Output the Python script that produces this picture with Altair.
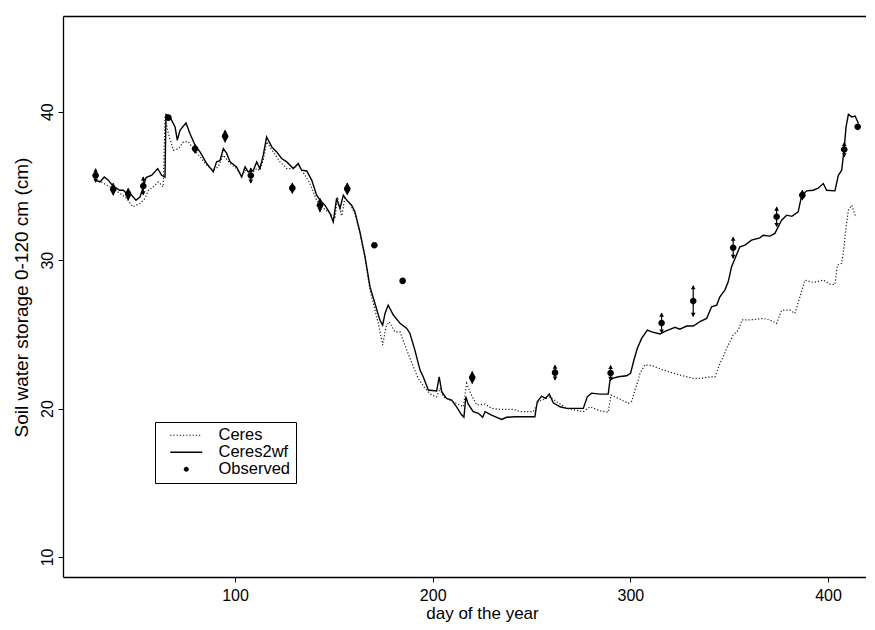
import altair as alt
import pandas as pd

# ---------------- data ----------------
ceres2wf_day = [29.3, 31.7, 33.9, 35.9, 38.4, 41.8, 43.5, 45.2, 47.7, 49.9, 52.0, 53.6, 55.0, 57.9,
                60.9, 62.9, 64.6, 65.1, 67.1, 69.7, 70.8, 72.2, 75.2, 77.2, 79.8, 82.3, 85.7, 89.0,
                90.7, 92.4, 94.1, 95.8, 97.5, 100.8, 103.4, 105.1, 106.7, 109.3, 111.0, 112.6, 114.3,
                116.0, 118.6, 121.1, 123.6, 126.2, 129.5, 132.0, 133.7, 136.3, 138.8, 141.3, 143.0,
                145.5, 148.1, 149.7, 151.4, 153.1, 154.8, 156.5, 159.0, 160.7, 163.2, 165.8, 168.3,
                170.8, 173.3, 174.7, 175.9, 177.5, 180.1, 183.5, 186.9, 188.5, 191.0, 193.6, 195.2,
                197.8, 202.0, 203.3, 204.6, 207.0, 209.6, 212.1, 214.7, 215.8, 216.8, 218.0, 220.5,
                223.1, 225.3, 226.5, 229.8, 232.4, 234.9, 237.4, 241.6, 251.7, 252.9, 255.1, 257.1,
                259.0, 261.0, 264.4, 267.8, 276.2, 278.2, 280.4, 284.6, 288.8, 289.7, 291.0, 293.9,
                298.1, 300.1, 301.8, 303.5, 305.7, 308.6, 310.8, 315.0, 317.5, 320.0, 322.6, 325.0,
                328.5, 331.8, 335.2, 338.6, 341.1, 343.7, 345.3, 347.8, 349.5, 351.2, 352.9, 355.4,
                358.0, 361.3, 365.5, 367.2, 370.6, 373.1, 374.8, 376.5, 379.1, 381.7, 384.9, 386.7,
                389.2, 392.5, 395.0, 397.6, 399.3, 403.5, 405.2, 406.9, 408.1, 409.1, 410.3, 412.0,
                413.7, 415.4]
ceres2wf_val = [35.39, 35.27, 35.6, 35.39, 34.98, 34.71, 34.71, 34.49, 34.38, 34.04, 34.26, 34.94, 35.57, 35.72,
                36.17, 35.72, 35.6, 39.81, 39.65, 38.98, 38.08, 38.75, 39.25, 38.53, 37.74, 37.29, 36.51, 35.95,
                36.62, 36.7, 37.52, 37.19, 36.62, 36.28, 35.61, 36.28, 35.95, 36.06, 36.62, 36.17, 37.07,
                38.3, 37.63, 37.29, 36.85, 36.62, 36.17, 36.51, 36.06, 36.01, 35.39, 34.38, 34.04,
                33.7, 33.14, 32.58, 34.16, 33.48, 34.38, 34.04, 33.7, 33.25, 31.91, 30.22, 28.2,
                27.08, 25.96, 25.62, 26.41, 26.97, 26.3, 25.74, 25.4, 25.06, 23.94, 22.59, 22.14,
                21.25, 21.18, 22.14, 21.13, 20.69, 20.57, 20.12, 19.56, 19.41, 20.79, 20.3, 19.79,
                19.68, 19.41, 19.79, 19.56, 19.41, 19.27, 19.41, 19.45, 19.45, 20.46, 20.84, 20.69,
                20.98, 20.39, 20.12, 20.01, 20.01, 20.79, 21.04, 20.97, 20.98, 21.92, 22.03, 22.14,
                22.21, 22.37, 23.27, 24.05, 24.73, 25.29, 25.17, 25.02, 25.2, 25.33, 25.47, 25.35,
                25.56, 25.56, 25.85, 26.07, 26.86, 26.97, 27.53, 27.98, 28.54, 29.55, 30.1, 30.9,
                31.01, 31.35, 31.5, 31.68, 31.62, 31.8, 32.24, 32.69, 33.03, 32.95, 33.25, 34.38,
                34.67, 34.71, 34.85, 35.16, 34.71, 34.67, 35.72, 36.06, 37.41, 38.98, 39.83, 39.65,
                39.7, 39.21]

ceres_day = [29.3, 32.0, 35.1, 38.4, 41.8, 45.2, 48.3, 52.0, 54.5, 56.2, 58.7, 61.2, 63.7, 64.6,
             66.3, 68.8, 71.4, 73.9, 76.4, 78.9, 82.3, 85.7, 89.0, 91.5, 94.1, 97.5, 100.8, 103.4,
             105.1, 108.4, 111.0, 112.6, 114.3, 116.0, 119.4, 122.8, 126.2, 129.5, 132.0, 135.4,
             137.9, 141.3, 143.9, 148.1, 150.6, 151.8, 154.0, 155.6, 158.2, 160.7, 163.2, 165.8,
             168.3, 172.5, 174.7, 176.4, 178.0, 180.9, 183.5, 186.9, 190.2, 192.7, 196.1, 199.5,
             202.0, 203.7, 205.4, 210.4, 215.5, 217.2, 219.2, 222.3, 226.5, 229.8, 234.0, 240.8,
             244.2, 250.9, 253.4, 256.0, 259.3, 262.7, 267.8, 276.2, 279.6, 284.6, 288.8, 290.2,
             293.9, 299.0, 300.8, 302.3, 303.5, 304.9, 307.4, 311.6, 316.7, 320.0, 325.1, 331.8,
             335.2, 340.3, 342.8, 345.3, 347.0, 348.7, 352.0, 354.6, 356.5, 361.0, 367.2, 370.6,
             374.0, 376.5, 380.7, 383.2, 385.8, 388.3, 392.5, 397.6, 401.0, 403.5, 404.7, 406.9,
             408.1, 409.1, 410.3, 412.0, 413.7, 414.8]
ceres_val = [35.4, 35.3, 35.05, 34.83, 34.5, 34.16, 33.59, 33.82, 34.16, 34.71, 34.94, 35.27, 34.94, 39.65,
             38.53, 37.41, 37.5, 37.97, 37.97, 37.52, 36.96, 36.4, 36.06, 36.29, 37.07, 36.51, 36.17, 35.6,
             36.06, 35.84, 36.17, 36.06, 36.73, 37.97, 37.29, 36.62, 36.17, 36.17, 36.4, 35.72,
             35.16, 34.04, 33.59, 33.14, 32.8, 34.26, 32.98, 34.2, 33.82, 33.1, 31.8, 30.1,
             27.98, 25.74, 24.28, 25.51, 25.85, 25.17, 25.17, 23.94, 22.81, 22.03, 21.36, 20.91,
             20.79, 21.36, 20.79, 20.46, 20.12, 21.7, 21.02, 20.24, 20.3, 20.01, 19.95, 19.95,
             19.79, 19.79, 20.46, 20.6, 20.79, 20.46, 20.01, 19.79, 20.12, 19.85, 19.75, 20.91,
             20.69, 20.35, 20.5, 21.25, 21.7, 22.37, 22.96, 22.86, 22.59, 22.45, 22.26, 22.03,
             22.03, 22.14, 22.14, 23.04, 23.49, 24.05, 24.95, 25.29, 25.98, 25.98, 26.07, 25.96,
             25.74, 26.63, 26.63, 26.41, 27.53, 28.65, 28.5, 28.65, 28.38, 28.35, 29.66, 29.78,
             30.9, 32.24, 33.37, 33.7, 33.03, 33.0]

obs_day = [29.5, 38.4, 46.0, 53.6, 66.3, 79.8, 95.0, 108.0, 129.0, 143.0, 156.8, 170.5, 184.8,
           220.0, 261.9, 290.0, 315.8, 331.8, 352.0, 374.0, 387.0, 408.2, 415.0]
obs_mean = [35.7, 34.78, 34.45, 35.0, 39.6, 37.5, 38.35, 35.7, 34.85, 33.7, 34.8, 31.0, 28.6,
            22.09, 22.42, 22.4, 25.76, 27.24, 30.83, 32.92, 34.38, 37.45, 38.98]
obs_err = [0.45, 0.4, 0.4, 0.6, 0.0, 0.3, 0.4, 0.5, 0.35, 0.45, 0.4, 0.0, 0.0,
           0.4, 0.5, 0.5, 0.67, 1.03, 0.71, 0.65, 0.33, 0.48, 0.0]

series_names = ["Ceres", "Ceres2wf", "Observed"]
x_ticks = [100, 200, 300, 400]
y_ticks = [10, 20, 30, 40]

# ---------------- tables ----------------
df_wf = pd.DataFrame({"day": ceres2wf_day, "value": ceres2wf_val})
df_c = pd.DataFrame({"day": ceres_day, "value": ceres_val})
df_o = pd.DataFrame({"day": obs_day, "mean": obs_mean, "err": obs_err})
df_o["lo"] = df_o["mean"] - df_o["err"]
df_o["hi"] = df_o["mean"] + df_o["err"]
df_o["series"] = "Observed"
df_e = df_o[df_o["err"] > 0]

# ---------------- styling ----------------
FONT = "Liberation Sans"
xscale = alt.Scale(domain=[13, 419.2], nice=False, zero=False)
yscale = alt.Scale(domain=[8.65, 46.45], nice=False, zero=False)


def rect_path(x0, x1, h):
    return "M%.3f,%.3fL%.3f,%.3fL%.3f,%.3fL%.3f,%.3fZ" % (x0, -h, x1, -h, x1, h, x0, h)


# legend glyphs (unit-box paths, filled)
dotted_path = "".join(rect_path(-2 + 0.4 * i, -2 + 0.4 * i + 0.14, 0.07) for i in range(10))
line_path = rect_path(-2, 2, 0.08)
r = 0.31
circle_path = "M-%s,0A%s,%s 0 1,0 %s,0A%s,%s 0 1,0 -%s,0Z" % (r, r, r, r, r, r, r)

x_axis = alt.Axis(values=x_ticks, format="d", title="day of the year", grid=False,
                  tickSize=5, tickColor="black", tickWidth=1, domainColor="black", domainWidth=1.3,
                  labelColor="black", labelFont=FONT, labelFontSize=16, labelBaseline="alphabetic",
                  labelPadding=18, labelFlush=False,
                  titleFont=FONT, titleFontSize=17, titleFontWeight="normal", titleColor="black",
                  titleX=419, titleY=41, titleBaseline="alphabetic", titleAlign="center")
x_top = alt.Axis(orient="top", labels=False, ticks=False, title=None, grid=False,
                 domainColor="black", domainWidth=1.3)
y_axis = alt.Axis(values=y_ticks, format="d", title="Soil water storage 0-120 cm (cm)", grid=False,
                  tickSize=5, tickColor="black", tickWidth=1, domainColor="black", domainWidth=1.3,
                  labelColor="black", labelFont=FONT, labelFontSize=16, labelAngle=270,
                  labelAlign="center", labelBaseline="alphabetic", labelPadding=6,
                  titleFont=FONT, titleFontSize=19, titleFontWeight="normal", titleColor="black",
                  titleAngle=270, titleX=-36, titleY=281, titleAlign="center",
                  titleBaseline="alphabetic")

X = lambda f, ax: alt.X(f, type="quantitative", scale=xscale, axis=ax)
Y = lambda f, ax=None: alt.Y(f, type="quantitative", scale=yscale, axis=ax)

wf_line = alt.Chart(df_wf).mark_line(color="black", strokeWidth=1.4).encode(
    x=X("day", x_axis), y=Y("value", y_axis), order="day:Q")

c_line = alt.Chart(df_c).mark_line(color="#1a1a1a", strokeWidth=1.2, strokeDash=[1.2, 2]).encode(
    x=X("day", x_top), y=Y("value"), order="day:Q")

err_rule = alt.Chart(df_e).mark_rule(color="black", strokeWidth=1.2).encode(
    x=X("day", None), y=Y("lo"), y2="hi:Q")

arrow_up = alt.Chart(df_e).mark_point(shape="triangle-up", filled=True, size=22, color="black",
                                      opacity=1, yOffset=1.5).encode(x=X("day", None), y=Y("hi"))
arrow_dn = alt.Chart(df_e).mark_point(shape="triangle-down", filled=True, size=22, color="black",
                                      opacity=1, yOffset=-1.5).encode(x=X("day", None), y=Y("lo"))

legend = alt.Legend(title=None, orient="none", legendX=92, legendY=406, padding=5,
                    strokeColor="black", fillColor="white", rowPadding=0,
                    symbolOffset=18, labelOffset=24, labelFont=FONT, labelFontSize=16.5,
                    labelColor="black", symbolSize=256, symbolStrokeWidth=0,
                    symbolFillColor="black", symbolOpacity=1)

obs_pts = alt.Chart(df_o).mark_point(filled=True, color="black", size=454, opacity=1).encode(
    x=X("day", None), y=Y("mean"),
    shape=alt.Shape("series:N", scale=alt.Scale(domain=series_names,
                                                range=[dotted_path, line_path, circle_path]),
                    legend=legend))

chart = alt.layer(wf_line, c_line, err_rule, arrow_up, arrow_dn, obs_pts).resolve_axis(
    x="independent", y="independent"
).properties(
    width=803, height=561,
    autosize=alt.AutoSizeParams(type="none"),
    padding={"left": 55, "top": 8, "right": 0, "bottom": 45},
    background="white",
).configure_view(stroke="transparent")

chart.save("out.html", embed_options={"renderer": "svg", "actions": False})
